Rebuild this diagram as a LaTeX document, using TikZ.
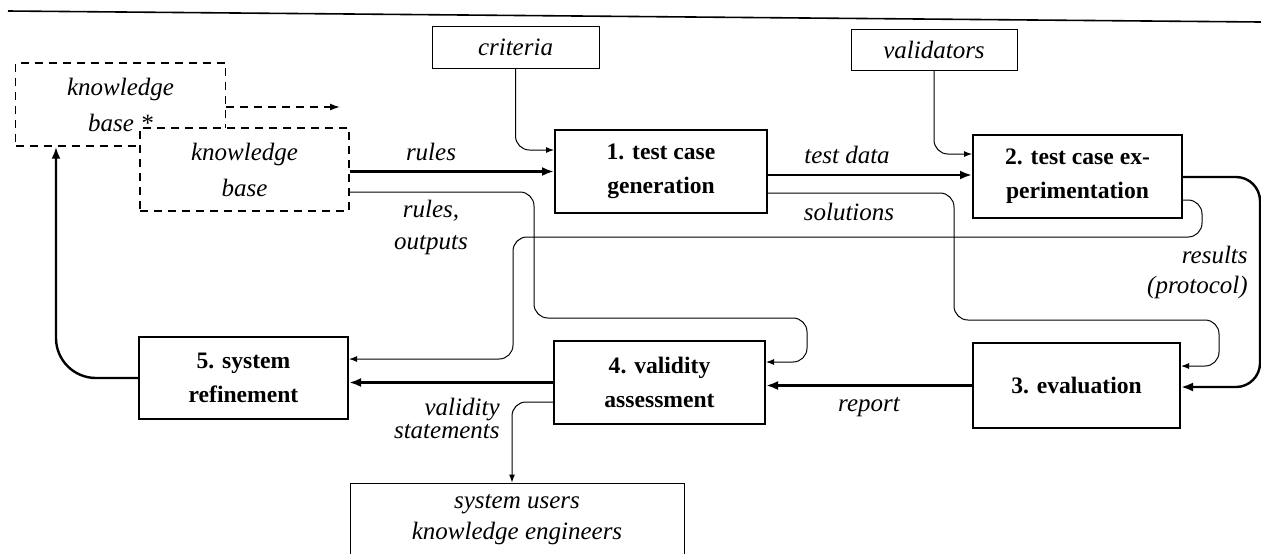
\documentclass[tikz,border=0pt]{standalone}
\usepackage{fontspec}
\setmainfont{Liberation Serif}
\usetikzlibrary{arrows.meta,calc}

\begin{document}
\begin{tikzpicture}[x=0.5pt,y=-0.5pt,
    procbox/.style={draw, line width=1pt, align=center, inner sep=0pt,
      font=\bfseries\fontsize{11.8}{17}\selectfont,
      minimum width=105pt, minimum height=41.5pt},
    srcbox/.style={draw, line width=0.5pt, inner sep=0pt,
      font=\itshape\fontsize{12.5}{15.5}\selectfont,
      minimum width=83.5pt, minimum height=21pt},
    kbbox/.style={draw, fill=white, dash pattern=on 4pt off 3pt, line width=0.7pt,
      align=center, inner sep=0pt, font=\itshape\fontsize{12.5}{18}\selectfont,
      minimum width=105pt, minimum height=41.5pt},
    lbl/.style={inner sep=0pt, align=center, font=\itshape\fontsize{12.5}{16}\selectfont},
    flow/.style={line width=1.2pt, -{Latex[length=6pt,width=4.5pt]}},
    feed/.style={line width=0.5pt, rounded corners=7pt, -{Latex[length=4pt,width=3pt]}}]
  \path[use as bounding box, clip] (0,0) rectangle (1261,553);
  \draw[line width=0.8pt] (8,11) -- (1261,22); % top rule

  % knowledge bases
  \node[kbbox] (kbstar) at (120.5,104.5) {knowledge\\base *};
  \node[kbbox, minimum width=104.5pt] (kb) at (244.5,169.5) {knowledge\\base};
  \coordinate (kbout) at (340,107);
  \draw[line width=0.7pt, dash pattern=on 4pt off 3pt, -{Latex[length=5pt,width=3.5pt]}]
    ($(kbstar.east)+(0,2.5)$) -- (kbout);

  % sources and sinks
  \node[srcbox] (crit) at (515.5,47) {criteria};
  \node[srcbox, minimum width=83pt, minimum height=20.5pt] (valid) at (934,49.5) {validators};
  \node[srcbox, align=center, minimum width=167pt, minimum height=36.5pt] (users) at (517,519.5)
    {system users\\knowledge engineers};

  % steps
  \node[procbox, minimum width=106pt] (gen) at (661,171.5) {1. test case\\generation};
  \node[procbox, minimum width=104.5pt] (exp) at (1077.5,176.5) {2. test case ex-\\perimentation};
  \node[procbox, minimum width=103.5pt, minimum height=42.5pt] (eval) at (1076.5,385.5) {3. evaluation};
  \node[procbox, minimum width=105.5pt] (assess) at (659.5,382.5) {4. validity\\assessment};
  \node[procbox, minimum width=104.5pt, minimum height=41pt] (refine) at (243.5,378) {5. system\\refinement};

  % connectors
  \draw[feed] (crit.south) |- ($(gen.west)+(0,-21.5)$);
  \draw[feed] (valid.south) |- ($(exp.west)+(0,-22.5)$);
  \draw[flow] (gen.west -| kb.east) -- (gen.west);
  \draw[flow] ($(gen.east)+(0,3.5)$) -- ($(exp.west)+(0,-1.5)$);
  \draw[feed] ($(kb.east)+(0,22.5)$) -| (534,318) -| (807,362) -- ($(assess.east)+(0,-20.5)$);
  \draw[feed] ($(gen.east)+(0,21.5)$) -| (954,320) -| (1219,366) -- ($(eval.east)+(0,-19.5)$);
  \draw[flow, rounded corners=12pt] ($(exp.east)+(0,0.5)$) -| (1260,387) -- ($(eval.east)+(0,1.5)$);
  \draw[feed] ($(exp.east)+(0,23.5)$) -| (1202,237) -| (513,359) -- ($(refine.east)+(0,-19)$);
  \draw[flow] (eval.west) -- (eval.west -| assess.east);
  \draw[flow] (assess.west) -- (assess.west -| refine.east);
  \draw[feed] ($(assess.west)+(0,19.5)$) -| ($(users.north)+(-5,0)$);
  \draw[flow, rounded corners=20pt] (refine.west) -| ($(kbstar.south)+(-64.5,0)$);

  % labels
  \node[lbl] (lrules) at (431,152) {rules};
  \node[lbl] (lrulesout) at (431,227) {rules,\\outputs};
  \node[lbl] (ltest) at (847,155) {test data};
  \node[lbl] (lsol) at (849,212) {solutions};
  \node[lbl, anchor=east, align=right, font=\itshape\fontsize{12.5}{15}\selectfont] (lres) at (1248,272) {results\\(protocol)};
  \node[lbl] (lrep) at (869,407) {report};
  \node[lbl, anchor=east, align=right, font=\itshape\fontsize{12.5}{11.5}\selectfont] (lval) at (500,418.5) {validity\\statements};
\end{tikzpicture}
\end{document}
